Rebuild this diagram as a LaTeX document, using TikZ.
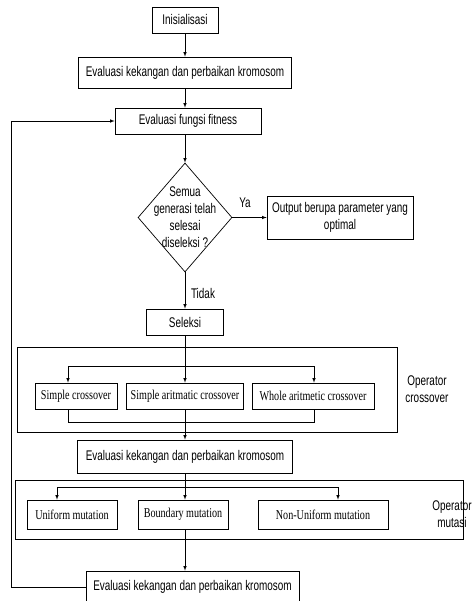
\documentclass[tikz,border=0pt]{standalone}
\usepackage{fontspec}
\setsansfont{Liberation Sans}[FakeStretch=0.71]
\newfontfamily\serifnarrow{Liberation Serif}[FakeStretch=0.75]
\usetikzlibrary{arrows}
\usetikzlibrary{shapes}

\begin{document}
\begin{tikzpicture}[x = 1pt, y = -1pt, font=\sffamily\fontsize{14}{17}\selectfont]
	\tikzstyle{boxStyle} = [shape = rectangle, draw, line width = 0.7pt, inner sep = 1pt, align = center]
	\tikzstyle{opStyle} = [boxStyle, minimum height = 26pt, font = \serifnarrow\fontsize{13.5}{15}\selectfont]
	\tikzstyle{frameStyle} = [shape = rectangle, draw, line width = 0.7pt]
	\tikzstyle{diamondStyle} = [shape = diamond, draw, line width = 0.7pt, inner sep = 0pt, minimum width = 94pt, minimum height = 109pt]
	\tikzstyle{arr} = [-latex, line width = 0.6pt]
	\tikzstyle{ln} = [line width = 0.6pt]
	\useasboundingbox (0,0) rectangle (471,601);
	% frames of the operators
	\node[frameStyle, minimum width = 380pt, minimum height = 85pt] (f1) at (207,389.5) {};
	\node[frameStyle, minimum width = 448pt, minimum height = 59pt] (f2) at (239,509.5) {};
	% main column
	\node[boxStyle, minimum width = 66pt, minimum height = 26pt] (v0) at (185,20) {Inisialisasi};
	\node[boxStyle, minimum width = 213pt, minimum height = 31pt] (v1) at (185,72.5) {Evaluasi kekangan dan perbaikan kromosom};
	\node[boxStyle, minimum width = 146pt, minimum height = 26pt] (v2) at (188,121) {Evaluasi fungsi fitness};
	\node[diamondStyle, label = {[align = center]center:Semua\\generasi telah\\selesai\\diseleksi ?}] (v3) at (185,217.5) {};
	\node[boxStyle, minimum width = 146pt, minimum height = 43pt] (v4) at (340,217.5) {Output berupa parameter yang\\optimal};
	\node[boxStyle, minimum width = 77pt, minimum height = 26pt] (v5) at (185,322) {Seleksi};
	\node[opStyle, minimum width = 82pt] (v6) at (76,396) {Simple crossover};
	\node[opStyle, minimum width = 117pt] (v7) at (185,396) {Simple aritmatic crossover};
	\node[opStyle, minimum width = 122pt] (v8) at (313,396) {Whole aritmetic crossover};
	\node[boxStyle, minimum width = 215pt, minimum height = 33pt] (v9) at (185,456.5) {Evaluasi kekangan dan perbaikan kromosom};
	\node[opStyle, minimum width = 90pt, minimum height = 29pt] (v10) at (72,514.5) {Uniform mutation};
	\node[opStyle, minimum width = 90pt, minimum height = 29pt] (v11) at (183,514.5) {Boundary mutation};
	\node[opStyle, minimum width = 130pt, minimum height = 29pt] (v12) at (323,514.5) {Non-Uniform mutation};
	\node[boxStyle, minimum width = 213pt, minimum height = 32pt] (v13) at (192.5,587) {Evaluasi kekangan dan perbaikan kromosom};
	% labels
	\node[align = center] (l0) at (245,203) {Ya};
	\node[align = center] (l1) at (203,293) {Tidak};
	\node[align = center] (l2) at (427,389) {Operator\\crossover};
	\node[align = center] (l3) at (452,514) {Operator\\mutasi};
	% bus points
	\coordinate (b1) at (68,366);
	\coordinate (b2) at (314,366);
	\coordinate (b3) at (68,422);
	\coordinate (b4) at (314,422);
	\coordinate (m1) at (57,487);
	\coordinate (m2) at (338,487);
	\coordinate (fb) at (11,121);
	% connectors
	\draw[arr] (v0) -- (v1);
	\draw[arr] (v1.south) -- (v1.south |- v2.north);
	\draw[arr] (v2.south -| v3) -- (v3.north);
	\draw[arr] (v3.east) -- (v4.west);
	\draw[arr] (v3.south) -- (v5.north);
	\draw[arr] (v5) -- (v7);
	\draw[ln] (b1) -- (b2);
	\draw[arr] (b1) -- (b1 |- v6.north);
	\draw[arr] (b2) -- (b2 |- v8.north);
	\draw[ln] (v6.south -| b3) -- (b3) -- (b4) -- (v8.south -| b4);
	\draw[arr] (v7) -- (v9);
	\draw[ln] (m1) -- (m2);
	\draw[arr] (m1) -- (m1 |- v10.north);
	\draw[arr] (m2) -- (m2 |- v12.north);
	\draw[arr] (v9.south) -- (v9.south |- v11.north);
	\draw[arr] (v11.south -| v9) -- (v13.north -| v9);
	\draw[arr] (v13.west) -| (fb) -- (v2.west);
\end{tikzpicture}
\end{document}
